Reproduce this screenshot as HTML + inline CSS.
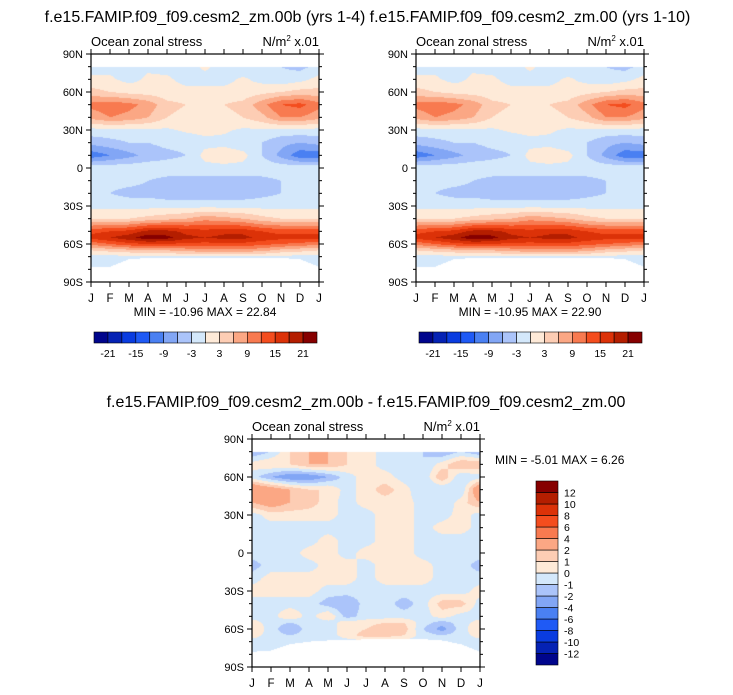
<!DOCTYPE html>
<html><head><meta charset="utf-8">
<style>
body{margin:0;background:#fff;width:733px;height:695px;overflow:hidden;font-family:"Liberation Sans",sans-serif;}
svg{position:absolute;left:0;top:0}
canvas{position:absolute}
</style></head>
<body>
<canvas id="c1" width="228" height="228" style="left:91px;top:54px"></canvas>
<canvas id="c2" width="228" height="228" style="left:416px;top:54px"></canvas>
<canvas id="c3" width="228" height="228" style="left:252px;top:439px"></canvas>
<svg id="s" width="733" height="695"></svg>
<script>
// ---- data ----
const months = ["J","F","M","A","M","J","J","A","S","O","N","D","J"];
const latLabels = ["90N","60N","30N","0","30S","60S","90S"];
const lats = [80,70,60,50,40,30,20,10,0,-10,-20,-30,-40,-50,-55,-60,-65,-70,-78];
const fieldA = [
[-2,-1,-1,-0.5,-1,-1,0.5,-1,-2,-2,-3,-4,-2],
[1,0.5,-1,0.5,0.5,-1,-1,-1,0.5,-1,-2,-1,1],
[4,3,2,1.5,1,1,1,1,1,2,3,4,4],
[10,11,10,8,4,3,2,3,4,8,12,13,10],
[7,9,8,6,3,2,1,2,3,5,9,9,7],
[-1,-1,-1,-0.5,-0.5,0.5,1,0.5,-0.5,-0.5,-1,-1,-1],
[-5,-4,-3,-3,-2,-2,-1,-1,-2,-3,-5,-6,-5],
[-11,-9,-7,-5,-4,-3,1,2,1,-3,-7,-11,-11],
[-1,-1,-1,-1,-1,-1,-1,-1,-1,-1,-1,-1,-1],
[-2,-2,-2,-3,-4,-4,-4,-4,-4,-4,-3,-2,-2],
[-2,-3,-4,-4,-5,-5,-5,-5,-5,-4,-3,-2,-2],
[-1,-1,-1,-1,-1,-1,-1,-1,-1,-1,-1,-1,-1],
[3,3,3,4,5,6,8,7,6,4,3,3,3],
[14,15,16,19,19,17,16,17,17,15,14,14,14],
[16,18,20,23,22,19,18,19,19,17,16,16,16],
[10,12,14,15,15,14,14,14,14,13,12,11,10],
[3,4,5,6,6,7,8,8,8,7,5,4,3],
[-1,-1,-1,-0.5,-0.5,-0.5,-0.5,-0.5,-0.5,-0.5,-1,-1,-1],
[-1,-1,-1,-1,-1,-1,-1,-1,-1,-1,-1,-1,-1]];
const fieldB = fieldA;
const fieldD = [
[-2,-1,1,2,2,1,0.5,-0.5,-0.5,-1,-2,-1,-2],
[0.5,1,1,2,2,1,0.5,-0.5,-0.5,-1,0.5,2,2],
[-0.5,-2,-3,-3,-2,-0.5,0.5,0.5,-0.5,-1,2,-1,-0.5],
[4,3,2,1,1,-0.5,0.5,1.5,0.5,-1,-1,-1,4],
[2,3,2,1.5,0.5,-0.5,0.5,0.5,0.5,-0.5,-1,0.5,2],
[-0.5,0.5,0.5,0.5,0.5,-0.5,-0.5,0.5,0.5,-0.5,-0.5,0.5,-0.5],
[-0.5,-0.5,-0.5,-0.5,-0.5,-0.5,-0.5,0.5,0.5,-0.5,0.5,0.5,-0.5],
[-0.5,-0.5,-0.5,-0.5,0.5,-0.5,-0.5,0.5,0.5,-0.5,-0.5,-0.5,-0.5],
[-0.5,-0.5,-0.5,0.5,0.5,-0.5,0.5,0.5,0.5,-0.5,-0.5,-0.5,-0.5],
[-1.5,-0.5,-0.5,-0.5,0.5,0.5,-0.5,0.5,0.5,0.5,-0.5,-0.5,-1.5],
[-0.5,0.5,0.5,0.5,0.5,0.5,-0.5,0.5,0.5,0.5,-0.5,-0.5,-0.5],
[0.5,0.5,0.5,0.5,-0.5,-0.5,-0.5,-0.5,-0.5,-0.5,-0.5,-0.5,0.5],
[-0.5,-0.5,-0.5,-0.5,-1.5,-2,-0.5,-0.5,-1.5,-0.5,1.5,1.5,-0.5],
[-0.5,-0.5,1,-0.5,1,-1.5,-0.5,-0.5,-0.5,-0.5,0.5,-0.5,-0.5],
[0.5,-0.5,-1,-0.5,-0.5,0.5,0.5,1,1,-0.5,-1.5,-0.5,0.5],
[1,-0.5,-2,-0.5,-0.5,0.5,1,2,1.5,-1,-2.5,-0.5,1],
[0.5,-0.5,-1,-0.5,-0.5,0.5,1.5,1.5,1,-0.5,-1,-0.5,0.5],
[-0.5,-0.5,-0.5,-0.5,-0.5,-0.5,-0.5,-0.5,-0.5,-0.5,-0.5,-0.5,-0.5],
[-0.5,-0.5,-0.5,-0.5,-0.5,-0.5,-0.5,-0.5,-0.5,-0.5,-0.5,-0.5,-0.5]];
const maskTop = [-78,-78,-72,-71,-71,-71,-71,-71,-71,-71,-71,-72,-78];
const maskDiff = [-78,-77,-72,-70,-69,-69,-68,-68,-68,-68,-69,-72,-78];
const levelsA = [-21,-18,-15,-12,-9,-6,-3,0,3,6,9,12,15,18,21];
const tickLabelsA = ["-21","-15","-9","-3","3","9","15","21"];
const levelsD = [-12,-10,-8,-6,-4,-2,-1,0,1,2,4,6,8,10,12];
const colors = ["#00058c","#0522b4","#0a3ce0","#1f5af5","#4a80f2","#82a6f5","#abc4fa","#d4e8fb","#feead8","#fdcdb4","#fba784","#f87a50","#f44d1e","#dc3208","#b41e00","#860000"];
const statsA = "MIN = -10.96 MAX =  22.84";
const statsB = "MIN = -10.95 MAX =  22.90";
const statsD = "MIN =  -5.01 MAX =   6.26";

function hex(c){return [parseInt(c.slice(1,3),16),parseInt(c.slice(3,5),16),parseInt(c.slice(5,7),16)];}
function sample(field,m,lat){
  let i=0; while(i<lats.length-2 && lat<lats[i+1]) i++;
  let t=(lats[i]-lat)/(lats[i]-lats[i+1]); t=Math.max(0,Math.min(1,t));
  let j=Math.min(11,Math.floor(m)); let u=m-j;
  const a=field[i][j]*(1-u)+field[i][j+1]*u, b=field[i+1][j]*(1-u)+field[i+1][j+1]*u;
  return a*(1-t)+b*t;
}
function drawField(id,field,levels,mask){
  const cv=document.getElementById(id),ctx=cv.getContext('2d');
  const img=ctx.createImageData(228,228);
  for(let y=0;y<228;y++)for(let x=0;x<228;x++){
    const lat=90-(y+0.5)*180/228, m=(x+0.5)*12/228;
    let col=[255,255,255];
    const mj=Math.min(11,Math.floor(m)),mu=m-mj;
    const ml=mask[mj]*(1-mu)+mask[mj+1]*mu;
    if(lat<=80 && lat>=ml){
      const v=sample(field,m,lat); let k=0; while(k<levels.length&&v>=levels[k])k++;
      col=hex(colors[k]);
    }
    const p=(y*228+x)*4; img.data[p]=col[0];img.data[p+1]=col[1];img.data[p+2]=col[2];img.data[p+3]=255;
  }
  ctx.putImageData(img,0,0);
}
drawField('c1',fieldA,levelsA,maskTop);
drawField('c2',fieldB,levelsA,maskTop);
drawField('c3',fieldD,levelsD,maskDiff);

const S=document.getElementById('s'),NS="http://www.w3.org/2000/svg";
function el(t,a,txt){const e=document.createElementNS(NS,t);for(const k in a)e.setAttribute(k,a[k]);if(txt!==undefined)e.textContent=txt;S.appendChild(e);return e;}
function axes(x0,y0,pfx){
  const W=228,H=228;
  const fr=el('rect',{x:x0,y:y0,width:W,height:H,fill:'none',stroke:'#000','stroke-width':1.2});
  
  for(let i=0;i<=18;i++){const y=y0+i*H/18,len=i%3==0?5:3;
    el('line',{x1:x0-len,x2:x0,y1:y,y2:y,stroke:'#000'});el('line',{x1:x0+W,x2:x0+W+len,y1:y,y2:y,stroke:'#000'});}
  latLabels.forEach((l,i)=>{const t=el('text',{x:x0-8,y:y0+i*38+4,'font-size':11,'text-anchor':'end'},l);
    });
  months.forEach((m,i)=>{const x=x0+i*19;
    el('line',{x1:x,x2:x,y1:y0+H,y2:y0+H+5,stroke:'#000'});el('line',{x1:x,x2:x,y1:y0-5,y2:y0,stroke:'#000'});
    const t=el('text',{x:x,y:y0+H+20,'font-size':11.5,'text-anchor':'middle'},m);
    });
  const a=el('text',{x:x0,y:y0-8,'font-size':13},'Ocean zonal stress');
  
  const u=el('text',{x:x0+W,y:y0-8,'font-size':13,'text-anchor':'end'});
  
  u.innerHTML='N/m<tspan font-size="8" dy="-5">2</tspan><tspan dy="5"> x.01</tspan>';
}
axes(91,54,'panel-1');axes(416,54,'panel-2');axes(252,439,'panel-diff');
function title(x,y,txt,n){const t=el('text',{x:x,y:y,'font-size':16,'text-anchor':'middle'},txt);}
title(205,22,'f.e15.FAMIP.f09_f09.cesm2_zm.00b (yrs 1-4)','title-panel-1');
title(530,22,'f.e15.FAMIP.f09_f09.cesm2_zm.00 (yrs 1-10)','title-panel-2');
title(366,407,'f.e15.FAMIP.f09_f09.cesm2_zm.00b - f.e15.FAMIP.f09_f09.cesm2_zm.00','title-panel-diff');
function stat(x,y,txt,n,anc){const t=el('text',{x:x,y:y,'font-size':12,'text-anchor':anc},txt);}
stat(205,316,statsA,'stats-panel-1','middle');stat(530,316,statsB,'stats-panel-2','middle');stat(495,464,statsD,'stats-panel-diff','start');
function hbar(x0,pfx){
  const w=223/16;
  colors.forEach((c,i)=>{const r=el('rect',{x:x0+i*w,y:332,width:w,height:11,fill:c,stroke:'#000','stroke-width':0.6});
    });
  tickLabelsA.forEach((l,i)=>{const t=el('text',{x:x0+(2*i+1)*w,y:357,'font-size':10.5,'text-anchor':'middle'},l);
    });
}
hbar(94,'panel-1');hbar(419,'panel-2');
const hh=184/16;
colors.forEach((c,i)=>{const r=el('rect',{x:536,y:481+(15-i)*hh,width:22,height:hh,fill:c,stroke:'#000','stroke-width':0.6});
  });
levelsD.forEach((l,i)=>{const t=el('text',{x:564,y:481+(15-i)*hh+4,'font-size':10.5},String(l));
  });
</script>
</body></html>
